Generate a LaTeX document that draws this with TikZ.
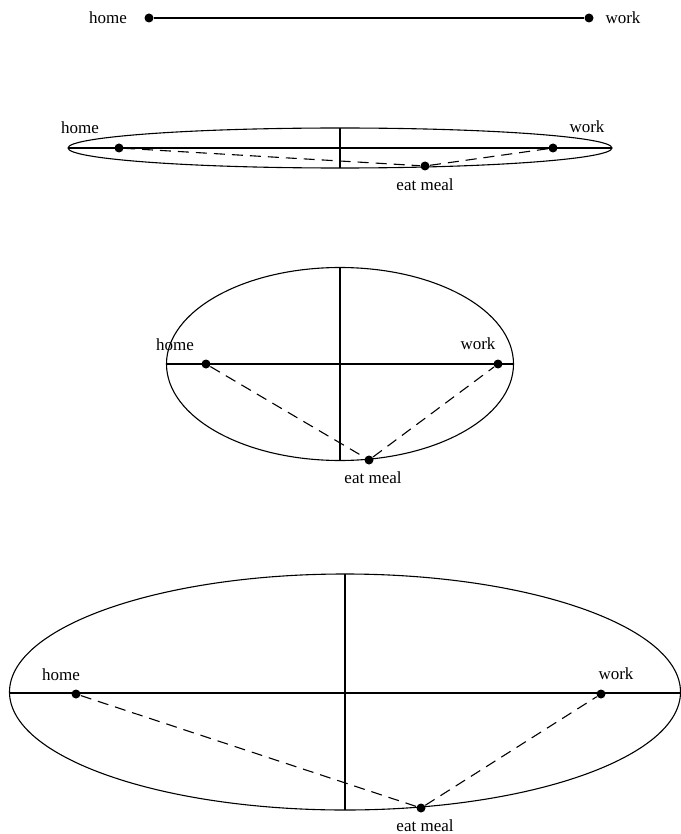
\documentclass[tikz,border=0pt]{standalone}
\usepackage{fontspec}
\setmainfont{Liberation Serif}
\begin{document}
\begin{tikzpicture}[x=1pt,y=-1pt,
  pt/.style={circle,fill=black,inner sep=0pt,minimum size=9pt},
  lbl/.style={inner sep=0pt,font=\fontsize{17}{17}\selectfont},
  route/.style={line width=1.1pt,dash pattern=on 11pt off 7pt},
  every path/.style={line width=1.1pt}]
\useasboundingbox (0,0) rectangle (680,834);
% Top
\node[pt] (h0) at (149,18) {};
\node[pt] (w0) at (589,18) {};
\draw (h0) -- (w0);
\node[lbl] (h0l) at (108,18) {home};
\node[lbl] (w0l) at (623,18) {work};
% Ellipse 2
\draw (340,148) ellipse [x radius=272, y radius=20];
\coordinate (a2l) at (68,148); \coordinate (a2r) at (612,148);
\coordinate (a2t) at (340,128); \coordinate (a2b) at (340,168);
\draw (a2l) -- (a2r); \draw (a2t) -- (a2b);
\node[pt] (h2) at (119,148) {};
\node[pt] (w2) at (553,148) {};
\node[pt] (e2) at (425,166) {};
\draw[route] (h2) -- (e2) -- (w2);
\node[lbl] at (80,128) {home};
\node[lbl] at (587,127) {work};
\node[lbl] at (425,185) {eat meal};
% Ellipse 3
\draw (340,364) ellipse [x radius=173.5, y radius=96.5];
\coordinate (a3l) at (166.5,364); \coordinate (a3r) at (513.5,364);
\coordinate (a3t) at (340,267.5); \coordinate (a3b) at (340,460.5);
\draw (a3l) -- (a3r); \draw (a3t) -- (a3b);
\node[pt] (h3) at (206,364) {};
\node[pt] (w3) at (498,364) {};
\node[pt] (e3) at (369,460) {};
\draw[route] (h3) -- (e3) -- (w3);
\node[lbl] at (175,345) {home};
\node[lbl] at (478,344) {work};
\node[lbl] at (373,478) {eat meal};
% Ellipse 4
\draw (345,692) ellipse [x radius=335.5, y radius=118];
\coordinate (a4l) at (9.5,693); \coordinate (a4r) at (680,693);
\coordinate (a4t) at (345,574); \coordinate (a4b) at (345,810);
\draw (a4l) -- (a4r); \draw (a4t) -- (a4b);
\node[pt] (h4) at (76,694) {};
\node[pt] (w4) at (601,694) {};
\node[pt] (e4) at (421,808) {};
\draw[route] (h4) -- (e4) -- (w4);
\node[lbl] at (61,675) {home};
\node[lbl] at (616,674) {work};
\node[lbl] at (425,826) {eat meal};
\end{tikzpicture}
\end{document}
